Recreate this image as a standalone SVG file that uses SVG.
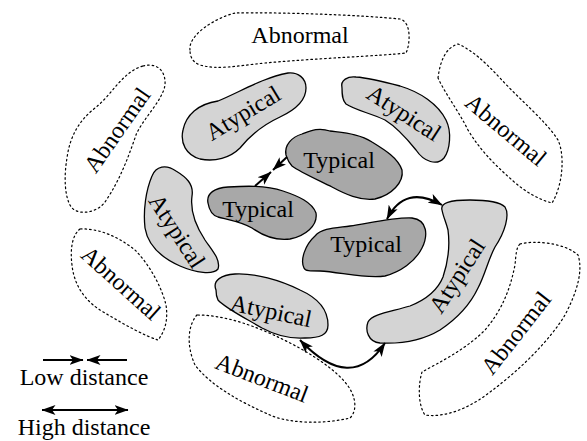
<svg xmlns="http://www.w3.org/2000/svg" width="587" height="441" viewBox="0 0 587 441">
<style>
.abn{fill:none;stroke:#000;stroke-width:1.2;stroke-dasharray:1.6 3;stroke-linecap:round}
.aty{fill:#d4d4d4;stroke:#000;stroke-width:1.3}
.typ{fill:#a8a8a8;stroke:#000;stroke-width:1.3}
.arr{fill:none;stroke:#000;stroke-width:2}
</style>
<defs>
<marker id="ah" viewBox="0 0 14 11" markerWidth="14" markerHeight="11" refX="13.5" refY="5.5" orient="auto-start-reverse" markerUnits="userSpaceOnUse">
<path d="M0,0.5 L14,5.5 L0,10.5 L3.5,5.5 Z" fill="#000"/>
</marker>
</defs>
<g font-family="'Liberation Serif', serif" font-size="24" text-anchor="middle" fill="#000">
<g id="abnormal-top">
<path class="abn" d="M190,50 C188,35 215,18 235,13 C280,12 360,15 400,19 C412,22 410,45 406,53 C380,56 320,58 265,63 C235,66 218,70 200,65 C192,62 190,56 190,50 Z"/>
<text transform="translate(300,35)" y="8">Abnormal</text>
</g>
<g id="abnormal-left">
<path class="abn" d="M143,66 C158,62 166,72 165,85 C163,100 142,120 136,135 C128,158 120,180 105,202 C98,212 80,216 72,208 C64,198 64,175 67,158 C70,135 80,120 95,108 C112,95 122,72 143,66 Z"/>
<text transform="translate(117,130) rotate(-55)" y="8">Abnormal</text>
</g>
<g id="abnormal-right">
<path class="abn" d="M438,78 C440,62 445,48 458,44 C472,50 485,62 500,78 C520,100 545,120 558,140 C565,155 563,185 552,203 C540,200 525,192 512,180 C495,165 480,150 468,130 C458,110 446,95 438,78 Z"/>
<text transform="translate(506,130) rotate(40)" y="8">Abnormal</text>
</g>
<g id="abnormal-lower-left">
<path class="abn" d="M80,229 C72,235 70,250 72,265 C74,285 85,302 105,313 C125,325 145,336 158,340 C166,330 168,318 166,305 C162,288 150,265 135,250 C120,238 100,228 80,229 Z"/>
<text transform="translate(121,283) rotate(42)" y="8">Abnormal</text>
</g>
<g id="abnormal-bottom">
<path class="abn" d="M197,315 C188,325 186,345 195,365 C210,385 240,402 270,415 C290,424 325,424 350,418 C358,410 356,395 345,382 C330,365 305,350 280,338 C255,326 225,315 197,315 Z"/>
<text transform="translate(262,378) rotate(21)" y="8">Abnormal</text>
</g>
<g id="abnormal-bottom-right">
<path class="abn" d="M520,244 C535,240 565,243 578,255 C583,270 578,290 565,315 C550,340 520,370 490,392 C470,408 445,418 425,415 C418,405 418,385 422,372 C440,362 465,350 485,330 C502,310 510,290 515,265 C516,255 516,248 520,244 Z"/>
<text transform="translate(516,333) rotate(-52)" y="8">Abnormal</text>
</g>
<g id="atypical-top-left">
<path class="aty" d="M183,130 C186,115 198,104 218,101 C240,92 262,78 288,73 C298,72 306,78 306,88 C306,100 295,110 280,117 C265,124 252,133 240,148 C230,158 215,162 200,159 C186,155 180,143 183,130 Z"/>
<text transform="translate(243,113) rotate(-31)" y="8">Atypical</text>
</g>
<g id="atypical-top-right">
<path class="aty" d="M342,88 C340,80 348,76 356,77 C370,78 385,82 400,86 C420,92 438,104 446,120 C452,132 450,150 444,158 C437,166 424,162 416,150 C408,140 398,128 385,120 C370,113 355,110 346,104 C342,100 342,94 342,88 Z"/>
<text transform="translate(404,113) rotate(33)" y="8">Atypical</text>
</g>
<g id="atypical-left">
<path class="aty" d="M152,176 C156,166 166,164 176,171 C186,177 194,184 192,196 C190,211 195,225 205,240 C212,250 221,260 218,269 C213,275 196,273 180,266 C162,258 148,246 145,228 C143,210 146,190 152,176 Z"/>
<text transform="translate(177,231) rotate(57)" y="8">Atypical</text>
</g>
<g id="atypical-bottom">
<path class="aty" d="M216,290 C212,280 222,275 235,274 C255,273 280,280 300,290 C318,298 328,310 328,325 C328,335 320,338 305,338 C290,339 275,335 262,328 C245,318 225,308 218,300 C216,296 216,293 216,290 Z"/>
<text transform="translate(271,311) rotate(12)" y="8">Atypical</text>
</g>
<g id="atypical-right">
<path class="aty" d="M442,210 C440,203 450,200 470,200 C485,200 500,202 505,207 C510,215 505,232 495,247 C488,260 485,275 478,288 C470,305 455,320 440,330 C420,342 400,344 380,343 C368,342 365,330 368,322 C372,314 390,312 410,306 C425,300 437,292 443,277 C448,262 450,245 448,230 C446,222 443,216 442,210 Z"/>
<text transform="translate(457,276) rotate(-57)" y="8">Atypical</text>
</g>
<g id="typical-top">
<path class="typ" d="M286,155 C284,145 292,137 302,134 C310,131 318,127 330,131 C345,133 360,134 372,142 C385,150 398,158 402,170 C404,182 392,195 375,199 C360,201 345,194 332,187 C318,180 300,172 292,166 C288,162 287,158 286,155 Z"/>
<text transform="translate(339,161)" y="7">Typical</text>
</g>
<g id="typical-left">
<path class="typ" d="M208,203 C206,193 215,188 228,187 C245,186 265,185 283,191 C298,196 312,202 316,213 C318,226 305,236 290,239 C275,241 262,235 252,228 C242,222 230,220 218,217 C211,215 209,209 208,203 Z"/>
<text transform="translate(258,210)" y="7">Typical</text>
</g>
<g id="typical-lower">
<path class="typ" d="M304,268 C300,260 305,245 315,236 C322,228 335,228 350,226 C370,223 395,217 412,218 C428,220 428,236 422,248 C415,262 400,272 385,276 C365,279 340,272 320,271 C310,271 305,271 304,268 Z"/>
<text transform="translate(366,245)" y="7">Typical</text>
</g>
<g id="connectors">
<path class="arr" d="M255,186 L271,172" marker-end="url(#ah)"/>
<path class="arr" d="M287,157 L273,170" marker-end="url(#ah)"/>
<path class="arr" d="M387,219 Q405,184 442,205" marker-start="url(#ah)" marker-end="url(#ah)"/>
<path class="arr" d="M300,340 Q351,394 385,343" marker-start="url(#ah)" marker-end="url(#ah)"/>
</g>
<g id="legend">
<path class="arr" d="M43,360 L83,360" marker-end="url(#ah)"/>
<path class="arr" d="M127,360 L87,360" marker-end="url(#ah)"/>
<text x="84" y="385">Low distance</text>
<path class="arr" d="M42,410 L128,410" marker-start="url(#ah)" marker-end="url(#ah)"/>
<text x="84" y="435">High distance</text>
</g>
</g>
</svg>
